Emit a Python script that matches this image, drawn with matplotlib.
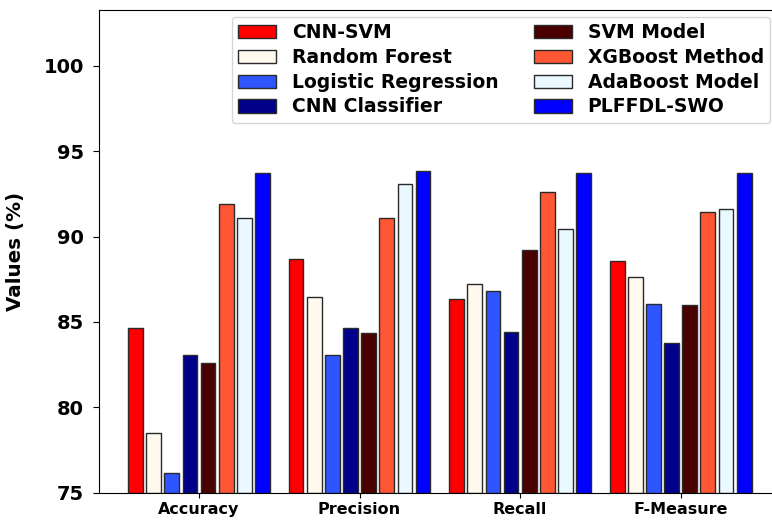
import numpy as np
import matplotlib
matplotlib.use("Agg")
import matplotlib.pyplot as plt

METRICS = ["Accuracy", "Precision", "Recall", "F-Measure"]
MODELS = ["CNN-SVM", "Random Forest", "Logistic Regression", "CNN Classifier",
          "SVM Model", "XGBoost Method", "AdaBoost Model", "PLFFDL-SWO"]

cnn_svm  = [84.65, 88.70, 86.37, 88.57]
rf       = [78.48, 86.45, 87.24, 87.63]
logreg   = [76.18, 83.07, 86.84, 86.04]
cnn      = [83.07, 84.66, 84.39, 83.75]
svm      = [82.60, 84.38, 89.23, 85.98]
xgb      = [91.88, 91.07, 92.60, 91.42]
ada      = [91.07, 93.06, 90.42, 91.62]
plffdl   = [93.74, 93.85, 93.74, 93.74]

SERIES = [cnn_svm, rf, logreg, cnn, svm, xgb, ada, plffdl]
COLORS = ["#FF0000", "#FFF9EE", "#2E55FF", "#00008B",
          "#4B0000", "#FF5733", "#EAF8FF", "#0000FF"]

STEP  = 0.113
WIDTH = 0.092

fig = plt.figure(figsize=(7.72, 5.21), dpi=100)
ax = fig.add_axes([99 / 772, 1 - 492.7 / 521, (776 - 99) / 772, (492.7 - 9.5) / 521])

x = np.arange(len(METRICS))
for i, (vals, col, name) in enumerate(zip(SERIES, COLORS, MODELS)):
    ax.bar(x + (i - 3.5) * STEP, np.array(vals) - 75, WIDTH, bottom=75,
           color=col, edgecolor="#2a2a2a", linewidth=1.0, label=name)

ax.set_ylim(75, 103.3)
ax.set_xlim(-0.623, 3.594)
ax.set_yticks([75, 80, 85, 90, 95, 100])
ax.set_xticks(x)
ax.set_xticklabels(METRICS, fontsize=11.5, fontweight="bold")
ax.tick_params(axis="y", length=4.2, pad=6.7)
for t in ax.get_yticklabels():
    t.set_fontsize(14)
    t.set_fontweight("bold")
ax.set_ylabel("Values (%)", fontsize=14.3, fontweight="bold")
ax.yaxis.set_label_coords(-0.109, 0.5)

ax.legend(ncol=2, loc="upper left", bbox_to_anchor=(231.7 / 772, 1 - 16.5 / 521),
          bbox_transform=fig.transFigure,
          prop={"weight": "bold", "size": 13.5}, handlelength=2.03,
          handletextpad=0.85, columnspacing=1.85, labelspacing=0.31,
          borderpad=0.35, borderaxespad=0)

plt.savefig("out.png", dpi=100)
plt.close()
